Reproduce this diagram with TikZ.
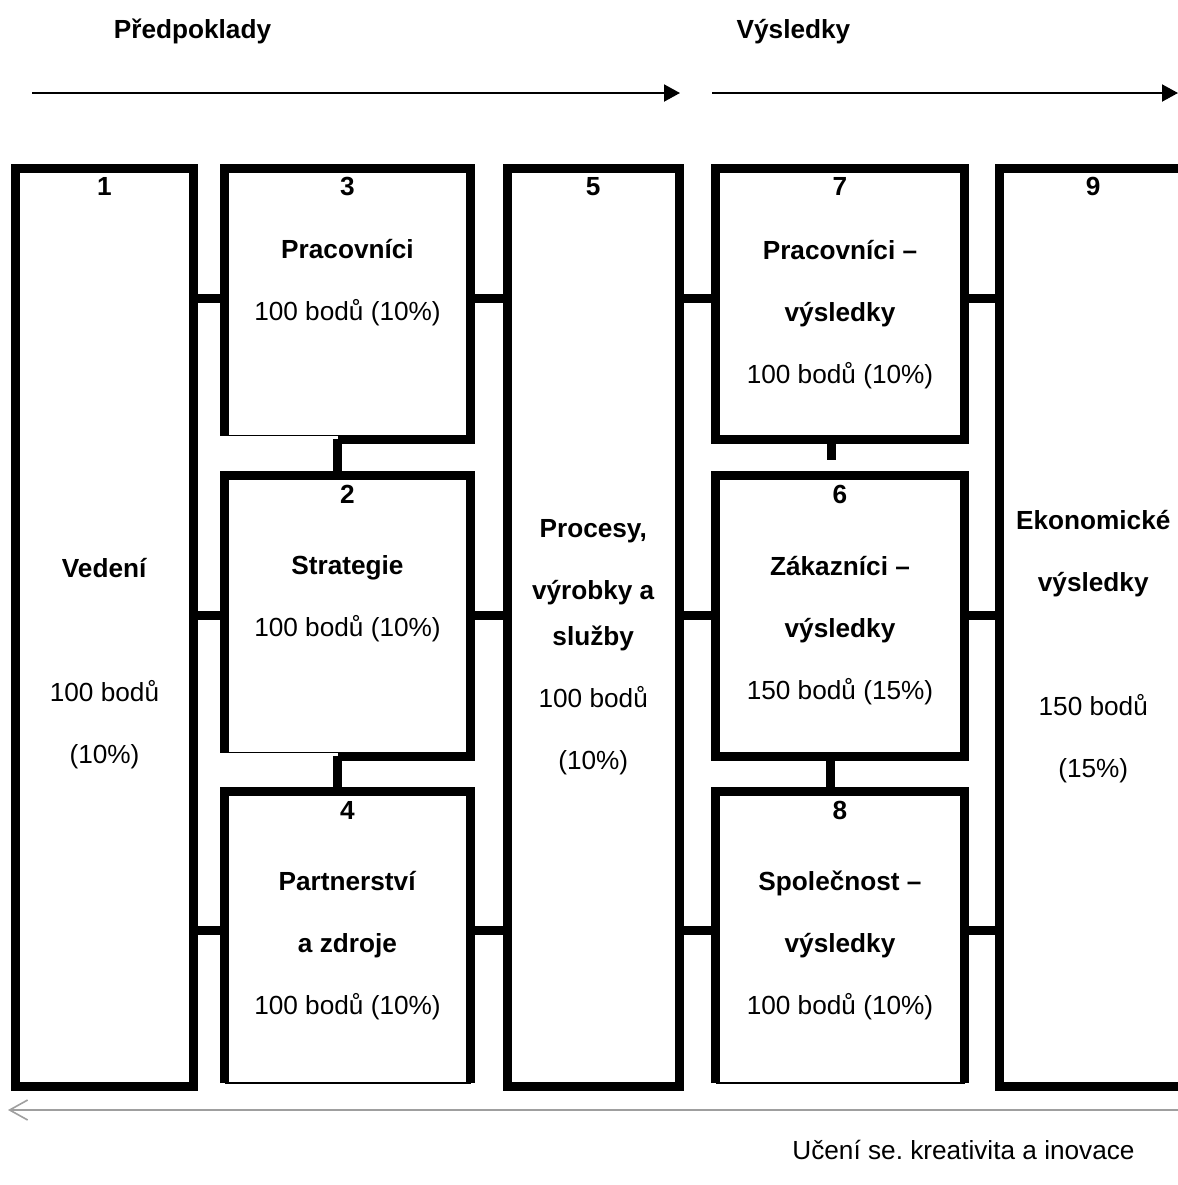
\documentclass[tikz,border=0pt]{standalone}
\usepackage{fontspec}
\setmainfont{Liberation Sans}
\usetikzlibrary{arrows.meta,positioning}
\tikzset{
  boxarea/.style={rectangle,inner sep=0pt,outer sep=0pt},
  fullbox/.style={boxarea,draw,line width=4.5pt},
  wall/.style={line width=4.5pt},
  hair/.style={line width=0.8pt},
  num/.style={font=\fontsize{13.1pt}{31pt}\selectfont\bfseries,inner sep=0pt},
  txt/.style={font=\fontsize{13.1pt}{31pt}\selectfont,align=center,inner sep=0pt,anchor=base},
  flow/.style={-{Triangle[length=8pt,width=8.5pt]},line width=1pt},
  backarr/.style={-{Straight Barb[length=9pt,width=10pt]},draw=gray!75,line width=0.8pt}
}
\begin{document}
\begin{tikzpicture}[x=0.5pt,y=-0.5pt]
  \useasboundingbox (0,0) rectangle (1178,1185);
  \clip (0,0) rectangle (1178,1185);

  % headings and arrows
  \node[txt,font=\fontsize{13.1pt}{31pt}\selectfont\bfseries] (lpre) at (192.5,38.5) {Předpoklady};
  \node[txt,font=\fontsize{13.1pt}{31pt}\selectfont\bfseries] (lres) at (793.5,38.5) {Výsledky};
  \coordinate (pa) at (32,93);
  \coordinate (pb) at (680,93);
  \coordinate (ra) at (712,93);
  \coordinate (rb) at (1178,93);
  \draw[flow] (pa) -- (pb);
  \draw[flow] (ra) -- (rb);

  % boxes
  \node[fullbox,minimum width=89pt,minimum height=459.25pt] (b1) at (104.5,627.25) {};
  \node[boxarea,minimum width=123pt,minimum height=135.5pt] (b3) at (347.5,303.5) {};
  \node[boxarea,minimum width=123pt,minimum height=140.25pt] (b2) at (347.5,615.75) {};
  \node[boxarea,minimum width=123pt,minimum height=147.5pt] (b4) at (347.5,939) {};
  \node[fullbox,minimum width=85.75pt,minimum height=459.25pt] (b5) at (593.25,627.25) {};
  \node[fullbox,minimum width=124.5pt,minimum height=135.5pt] (b7) at (840,303.5) {};
  \node[fullbox,minimum width=124.5pt,minimum height=140.25pt] (b6) at (840,615.75) {};
  \node[boxarea,minimum width=124.5pt,minimum height=147.5pt] (b8) at (840,939) {};
  \node[fullbox,minimum width=93.75pt,minimum height=459.25pt] (b9) at (1093.25,627.25) {};

  % open or half open bottoms
  \draw[wall] ([xshift=-5pt]b3.south) -- (b3.south east) -- (b3.north east) -- (b3.north west) -- ([yshift=1.75pt]b3.south west);
  \draw[hair] ([yshift=1.75pt]b3.south west) -- ([yshift=1.75pt]b3.south east);
  \draw[wall] ([xshift=-5pt]b2.south) -- (b2.south east) -- (b2.north east) -- (b2.north west) -- ([yshift=1.75pt]b2.south west);
  \draw[hair] ([yshift=1.75pt]b2.south west) -- ([yshift=1.75pt]b2.south east);
  \draw[wall] ([yshift=1.75pt]b4.south west) |- (b4.north east) -- ([yshift=1.75pt]b4.south east);
  \draw[hair] ([yshift=1.75pt]b4.south west) -- ([yshift=1.75pt]b4.south east);
  \draw[wall] ([yshift=1.75pt]b8.south west) |- (b8.north east) -- ([yshift=1.75pt]b8.south east);
  \draw[hair] ([yshift=1.75pt]b8.south west) -- ([yshift=1.75pt]b8.south east);

  % numbers
  \node[num,below=4.6pt of b1.north] (n1) {1};
  \node[num,below=4.6pt of b3.north] (n3) {3};
  \node[num,below=4.6pt of b2.north] (n2) {2};
  \node[num,below=4.6pt of b4.north] (n4) {4};
  \node[num,below=4.6pt of b5.north] (n5) {5};
  \node[num,below=4.6pt of b7.north] (n7) {7};
  \node[num,below=4.6pt of b6.north] (n6) {6};
  \node[num,below=4.6pt of b8.north] (n8) {8};
  \node[num,below=4.6pt of b9.north] (n9) {9};

  % texts (placed by the baseline of their last line)
  \node[txt] (t1) at (104.5,763.5) {\textbf{Vedení}\\[31pt]100 bodů\\(10\%)};
  \node[txt] (t3) at (347.5,320.5) {\textbf{Pracovníci}\\100 bodů (10\%)};
  \node[txt] (t2) at (347.5,636.5) {\textbf{Strategie}\\100 bodů (10\%)};
  \node[txt] (t4) at (347.5,1014.5) {\textbf{Partnerství}\\\textbf{a zdroje}\\100 bodů (10\%)};
  \node[txt] (t5) at (593.25,769.5) {\textbf{Procesy,}\\\textbf{výrobky a}\\[-8pt]\textbf{služby}\\100 bodů\\(10\%)};
  \node[txt] (t7) at (840,383.5) {\textbf{Pracovníci –}\\\textbf{výsledky}\\100 bodů (10\%)};
  \node[txt] (t6) at (840,699.5) {\textbf{Zákazníci –}\\\textbf{výsledky}\\150 bodů (15\%)};
  \node[txt] (t8) at (840,1014.5) {\textbf{Společnost –}\\\textbf{výsledky}\\100 bodů (10\%)};
  \node[txt] (t9) at (1093.25,777.5) {\textbf{Ekonomické}\\\textbf{výsledky}\\[31pt]150 bodů\\(15\%)};

  % connectors
  \coordinate (r1) at (0,298);
  \coordinate (r2) at (0,615);
  \coordinate (r3) at (0,930);
  \coordinate (stub) at (831,460);
  \draw[wall] (b1.east |- r1) -- (b3.west |- r1);
  \draw[wall] (b3.east |- r1) -- (b5.west |- r1);
  \draw[wall] (b5.east |- r1) -- (b7.west |- r1);
  \draw[wall] (b7.east |- r1) -- (b9.west |- r1);
  \draw[wall] (b1.east |- r2) -- (b2.west |- r2);
  \draw[wall] (b2.east |- r2) -- (b5.west |- r2);
  \draw[wall] (b5.east |- r2) -- (b6.west |- r2);
  \draw[wall] (b6.east |- r2) -- (b9.west |- r2);
  \draw[wall] (b1.east |- r3) -- (b4.west |- r3);
  \draw[wall] (b4.east |- r3) -- (b5.west |- r3);
  \draw[wall] (b5.east |- r3) -- (b8.west |- r3);
  \draw[wall] (b8.east |- r3) -- (b9.west |- r3);
  \draw[wall] ([xshift=-5pt]b3.south) -- ([xshift=-5pt]b2.north);
  \draw[wall] ([xshift=-5pt]b2.south) -- ([xshift=-5pt]b4.north);
  \draw[wall] (b7.south -| stub) -- (stub);
  \draw[wall] ([xshift=-5pt]b6.south) -- ([xshift=-5pt]b8.north);

  % bottom arrow
  \coordinate (la) at (1182,1110);
  \coordinate (lb) at (8,1110);
  \draw[backarr] (la) -- (lb);
  \node[txt] (lucen) at (963.5,1159) {\frenchspacing Učení se. kreativita a inovace};
\end{tikzpicture}
\end{document}
